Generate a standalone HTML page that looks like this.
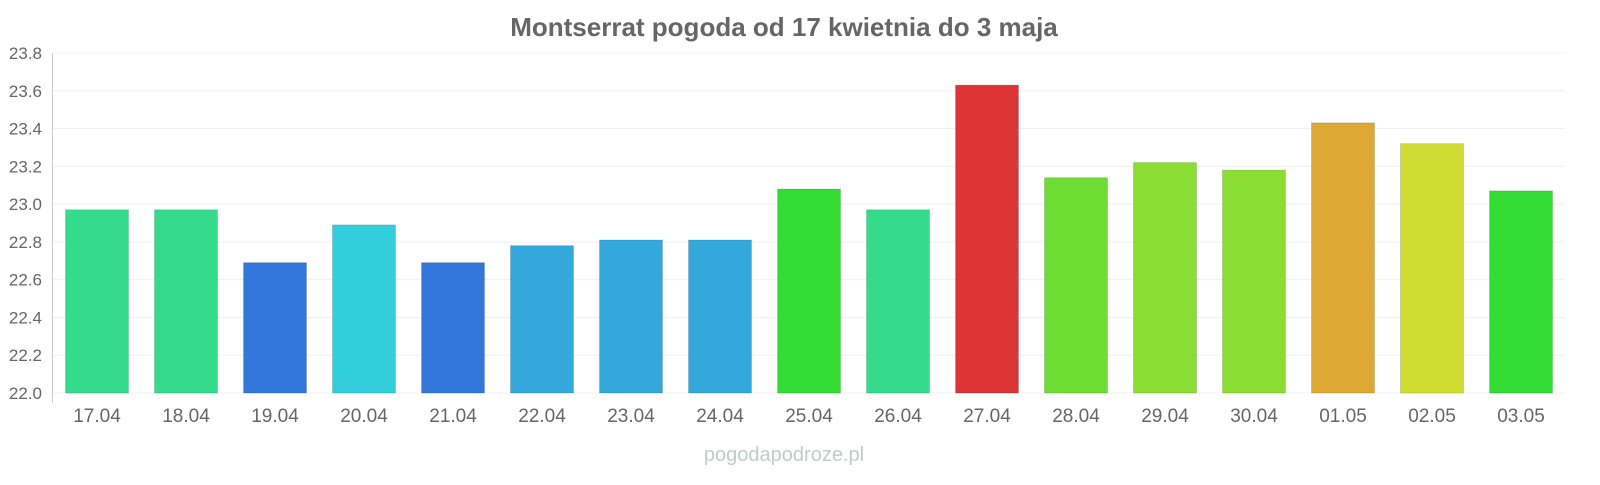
<!DOCTYPE html>
<html><head><meta charset="utf-8"><style>
body{margin:0;background:#fff;width:1600px;height:480px;overflow:hidden}
text{font-family:"Liberation Sans",sans-serif}
</style></head><body>
<svg width="1600" height="480" xmlns="http://www.w3.org/2000/svg">
<text x="784" y="36" text-anchor="middle" font-size="26" font-weight="bold" fill="#666">Montserrat pogoda od 17 kwietnia do 3 maja</text>
<g id="grid" stroke="#f0f0f0" stroke-width="1"></g>
<g id="bars"></g>
<line x1="52.5" y1="53" x2="52.5" y2="403" stroke="#ccc"/>
<g id="yl" font-size="17" fill="#666" text-anchor="end"></g>
<g id="xl" font-size="19" fill="#666" text-anchor="middle"></g>
<text x="784" y="461" text-anchor="middle" font-size="20" fill="#c3cbc8">pogodapodroze.pl</text>
</svg>
<script>
const ns="http://www.w3.org/2000/svg";
function el(p,t,a,txt){const e=document.createElementNS(ns,t);for(const k in a)e.setAttribute(k,a[k]);if(txt)e.textContent=txt;document.getElementById(p).appendChild(e);}
const y0=393,s=188.9;
for(let i=0;i<=9;i++){const v=22+i*0.2,y=y0-i*0.2*s;el('grid','line',{x1:52,x2:1565,y1:y,y2:y});el('yl','text',{x:42,y:y+6},v.toFixed(1));}
const d=[["17.04",22.97,"#33db8a"],["18.04",22.97,"#33db8a"],["19.04",22.69,"#3377dd"],["20.04",22.89,"#33cedb"],["21.04",22.69,"#3377dd"],["22.04",22.78,"#34a8db"],["23.04",22.81,"#34a8db"],["24.04",22.81,"#34a8db"],["25.04",23.08,"#33dd33"],["26.04",22.97,"#33db8a"],["27.04",23.63,"#dd3535"],["28.04",23.14,"#6ddd33"],["29.04",23.22,"#8bdd33"],["30.04",23.18,"#8bdd33"],["01.05",23.43,"#dda833"],["02.05",23.32,"#cfdd33"],["03.05",23.07,"#33dd33"]];
d.forEach((r,i)=>{const c=97+i*89,t=y0-(r[1]-22)*s;el('bars','rect',{x:c-31.5,y:t,width:63,height:y0-t,fill:r[2],stroke:"rgba(0,0,0,0.12)"});el('xl','text',{x:c,y:422},r[0]);});
</script>
</body></html>
